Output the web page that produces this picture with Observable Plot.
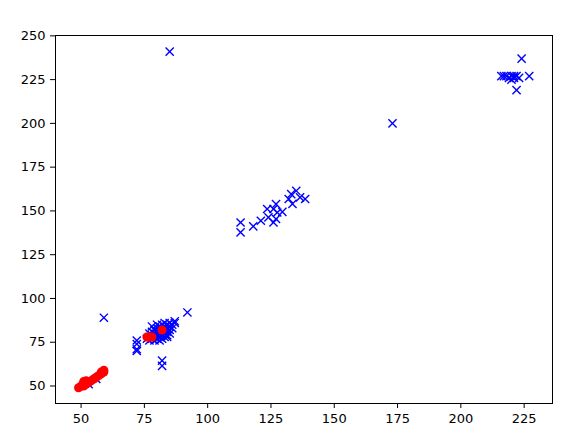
<!DOCTYPE html>
<html>
<head>
<meta charset="utf-8">
<script src="https://cdn.jsdelivr.net/npm/d3@7"></script>
<script src="https://cdn.jsdelivr.net/npm/@observablehq/plot@0.6"></script>
<style>
  html, body { margin: 0; padding: 0; background: #fff; }
</style>
</head>
<body>
<div id="chart"></div>
<script>
// Blue "x" markers
const blueX = [
  85, 173, 224, 216, 217, 218, 219, 220, 221, 222, 223, 220, 221, 227, 222,
  113, 113, 118, 121, 124, 123.5, 127, 126, 127, 126, 127.5, 129.5, 132, 133, 135, 136.5, 138.5, 133.5,
  92, 59, 72, 72, 72, 72, 82, 82,
  76, 77, 77, 78, 78, 78, 79, 79, 79, 80, 80, 80, 80, 80, 81, 81, 81, 81, 82, 82, 82, 82, 82,
  83, 83, 83, 83, 83, 84, 84, 84, 84, 85, 85, 85, 85, 86, 86, 87, 87, 81, 84, 79, 78, 77,
  53, 56
];
const blueY = [
  241, 200, 237, 227, 227, 227, 226, 227, 227, 227, 226, 225, 226, 227, 219,
  143.4, 137.7, 141.2, 144.4, 146.3, 151.1, 153.9, 151.1, 145.4, 143.4, 149.1, 149.5, 156.8, 159.6, 161.5, 157.7, 156.8, 154,
  92, 89, 76, 74, 71, 70, 64.5, 61.5,
  77, 76, 78, 77, 79, 84, 78, 80, 82, 77, 79, 81, 83, 85, 78, 80, 82, 84, 77, 79, 81, 83, 85,
  78, 80, 82, 84, 86, 79, 81, 83, 85, 80, 82, 84, 86, 83, 85, 86, 87, 76, 78, 76, 81, 80,
  51, 54
];

// Red "o" markers
const redX = [49, 50, 51, 51, 52, 52, 53, 54, 55, 56, 57, 58, 59, 59, 58, 76, 77, 78, 82];
const redY = [49, 50, 50, 52.5, 53, 51, 52, 53, 54, 55, 56, 57, 58, 59, 58, 78, 78, 78, 82];

const xTicks = [50, 75, 100, 125, 150, 175, 200, 225];
const yTicks = [50, 75, 100, 125, 150, 175, 200, 225, 250];

const blue = blueX.map((x, i) => ({x, y: blueY[i]}));
const red = redX.map((x, i) => ({x, y: redY[i]}));

const chart = Plot.plot({
  width: 568,
  height: 440,
  marginLeft: 55,
  marginRight: 16,
  marginTop: 35,
  marginBottom: 37,
  style: {fontFamily: "DejaVu Sans", fontSize: "13px", color: "black", background: "white", overflow: "visible"},
  x: {domain: [39.9, 236.2]},
  y: {domain: [40, 250.2]},
  marks: [
    Plot.dot(blue, {x: "x", y: "y", symbol: "times", r: 3.8, stroke: "#0000ff", strokeWidth: 1.4}),
    Plot.dot(red, {x: "x", y: "y", r: 4.5, fill: "#ff0000", stroke: "none"}),
    Plot.frame({stroke: "black", strokeWidth: 1}),
    Plot.axisX({ticks: xTicks, tickSize: 5, tickPadding: 5, label: null, fontSize: 13}),
    Plot.axisY({ticks: yTicks, tickSize: 5, tickPadding: 5, label: null, fontSize: 13})
  ]
});
document.getElementById("chart").appendChild(chart);
</script>
</body>
</html>
